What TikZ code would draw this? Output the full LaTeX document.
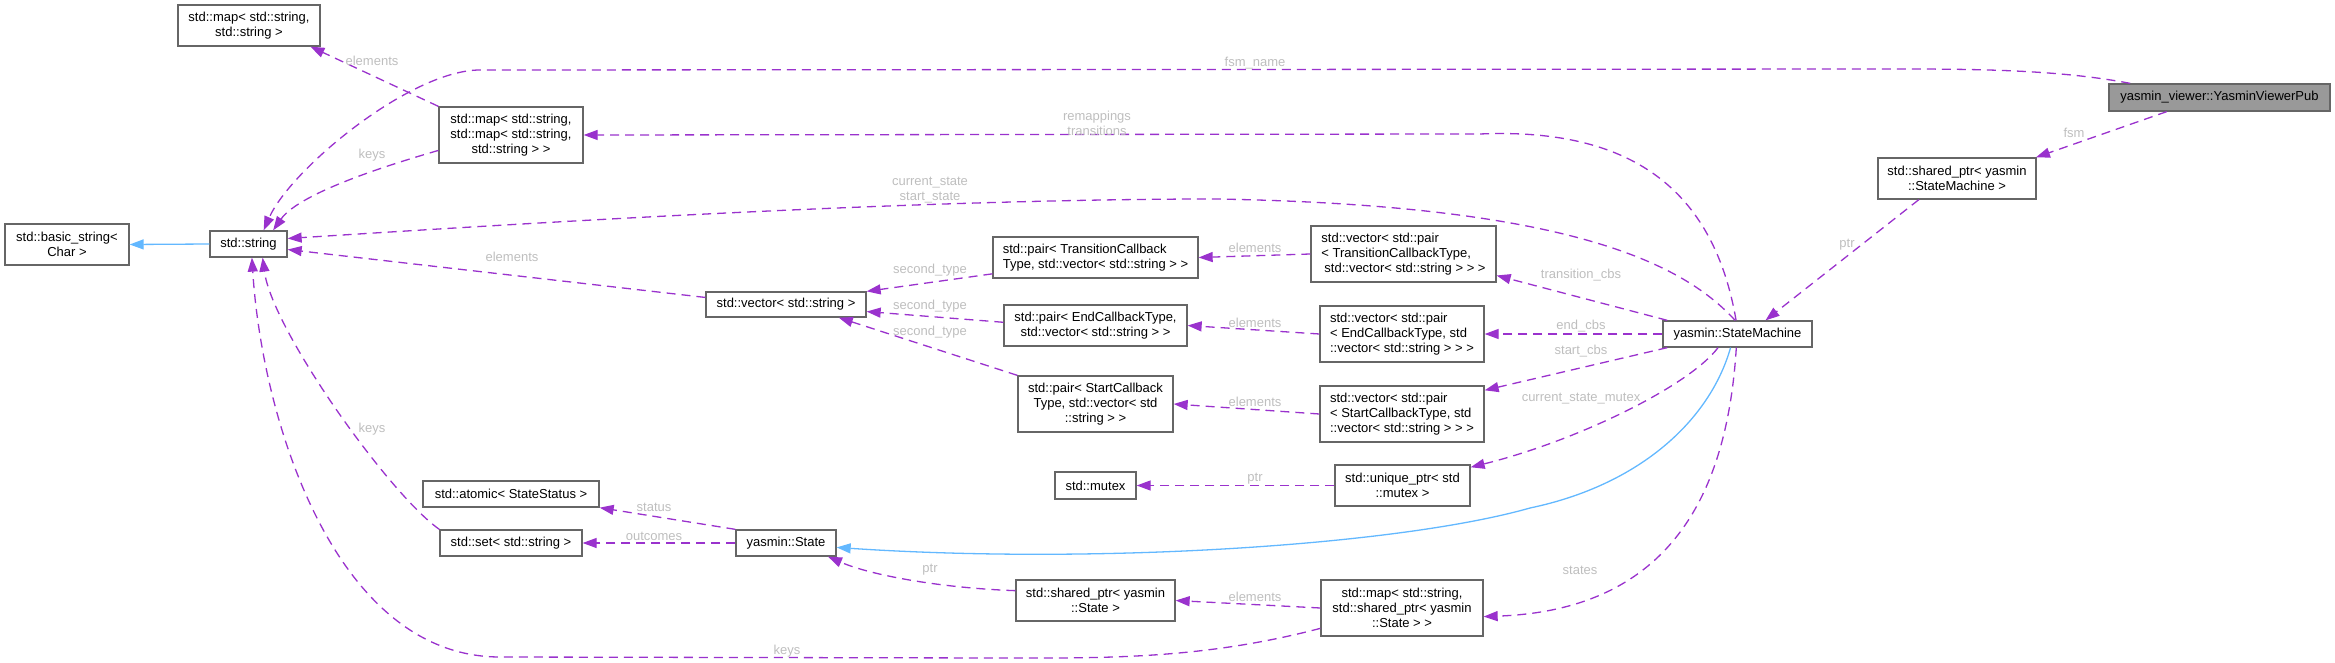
\documentclass[tikz,border=0pt]{standalone}
\usepackage{fontspec}
\setmainfont{Liberation Sans}
\usetikzlibrary{arrows.meta}
\definecolor{nodeborder}{HTML}{666666}
\definecolor{rootfill}{HTML}{999999}
\definecolor{usecol}{HTML}{9A32CD}
\definecolor{inhcol}{HTML}{63B8FF}
\definecolor{lblcol}{HTML}{BEBEBE}
\newcommand\nfont{\fontsize{13pt}{15pt}\selectfont}
\begin{document}
\begin{tikzpicture}[x=1pt,y=-1pt,
 box/.style={draw=nodeborder, line width=1.3pt, fill=white, inner sep=0pt, font=\nfont, align=center, text=black},
 lbox/.style={box, align=left},
 lbl/.style={font=\nfont, text=lblcol, inner sep=0pt, align=center},
 use/.style={draw=usecol, line width=1.3pt, dash pattern=on 9pt off 6pt, -{Triangle[length=14pt,width=10pt]}},
 inh/.style={draw=inhcol, line width=1.3pt, -{Triangle[length=14pt,width=10pt]}},
]
\useasboundingbox (0,0) rectangle (2335,663);
% nodes
\node[box, minimum width=142pt, minimum height=41pt] (A) at (249,25.5) {std::map< std::string,\\std::string >};
\node[box, minimum width=144pt, minimum height=56pt] (B) at (511,135) {std::map< std::string,\\std::map< std::string,\\std::string > >};
\node[box, minimum width=124pt, minimum height=41pt] (C) at (67,244.5) {std::basic\_string<\\Char >};
\node[box, minimum width=77pt, minimum height=26pt] (D) at (248.5,244) {std::string};
\node[box, minimum width=176pt, minimum height=26pt] (AT) at (511,494) {std::atomic< StateStatus >};
\node[box, minimum width=142pt, minimum height=26pt] (SE) at (511,543) {std::set< std::string >};
\node[box, minimum width=160pt, minimum height=25pt] (E) at (786,304.5) {std::vector< std::string >};
\node[box, minimum width=100pt, minimum height=26pt] (N) at (786,543) {yasmin::State};
\node[lbox, minimum width=205pt, minimum height=41pt] (F) at (1095.5,257.5) {std::pair< TransitionCallback\\Type, std::vector< std::string > >};
\node[box, minimum width=183pt, minimum height=41pt] (H) at (1095.5,325.5) {std::pair< EndCallbackType,\\std::vector< std::string > >};
\node[box, minimum width=155pt, minimum height=56pt] (J) at (1095.5,404) {std::pair< StartCallback\\Type, std::vector< std\\::string > >};
\node[box, minimum width=81pt, minimum height=27pt] (L) at (1095.5,485.5) {std::mutex};
\node[box, minimum width=159pt, minimum height=41pt] (O) at (1095.5,600.5) {std::shared\_ptr< yasmin\\::State >};
\node[lbox, minimum width=185pt, minimum height=56pt] (G) at (1403.5,254) {std::vector< std::pair\\< TransitionCallbackType,\\\hspace*{3pt}std::vector< std::string > > >};
\node[lbox, minimum width=164pt, minimum height=56pt] (I) at (1402,334) {std::vector< std::pair\\< EndCallbackType, std\\::vector< std::string > > >};
\node[lbox, minimum width=164pt, minimum height=56pt] (K) at (1402,414) {std::vector< std::pair\\< StartCallbackType, std\\::vector< std::string > > >};
\node[box, minimum width=135pt, minimum height=41pt] (M) at (1402.5,485.5) {std::unique\_ptr< std\\::mutex >};
\node[box, minimum width=162pt, minimum height=56pt] (P) at (1402,608) {std::map< std::string,\\std::shared\_ptr< yasmin\\::State > >};
\node[box, minimum width=149pt, minimum height=26pt] (SM) at (1737.5,334) {yasmin::StateMachine};
\node[box, minimum width=158pt, minimum height=41pt] (SP) at (1957,178.5) {std::shared\_ptr< yasmin\\::StateMachine >};
\node[box, fill=rootfill, minimum width=221pt, minimum height=27pt] (V) at (2219.5,97.5) {yasmin\_viewer::YasminViewerPub};
% edges
\draw[inh] (D.west) -- (C.east);
\draw[use] (B.north west) -- (A.-19);
\draw[use] (B.192) .. controls (395,163) and (300,192) .. (D.29);
\draw[use] (V.171) .. controls (2060,70) and (1980,69) .. (1900,69) -- (480,70) .. controls (410,70) and (290,170) .. (D.42);
\draw[use] (SM.96) .. controls (1712,180) and (1620,128) .. (1480,134) -- (B.east);
\draw[use] (SM.100) .. controls (1680,260) and (1560,205) .. (1216,199) .. controls (900,199) and (500,225) .. (D.8);
\draw[use] (E.175) -- (D.-8);
\draw[use] (SE.north west) .. controls (390,495) and (272,330) .. (D.-44);
\draw[use] (P.194) .. controls (1200,660) and (1100,658) .. (1000,658) -- (500,657) .. controls (335,657) and (262,420) .. (D.-76);
\draw[use] (F.189) -- (E.north east);
\draw[use] (H.178) -- (E.-5);
\draw[use] (J.north west) -- (E.-14);
\draw[use] (G.west) -- (F.east);
\draw[use] (I.west) -- (H.east);
\draw[use] (K.west) -- (J.east);
\draw[use] (M.west) -- (L.east);
\draw[use] (N.north west) -- (AT.south east);
\draw[use] (N.west) -- (SE.east);
\draw[use] (O.173) .. controls (940,588) and (870,575) .. (N.-18);
\draw[use] (P.west) -- (O.east);
\draw[use] (SM.169) -- (G.-13);
\draw[use] (SM.west) -- (I.east);
\draw[use] (SM.191) -- (K.16);
\draw[use] (SM.215) .. controls (1690,385) and (1580,440) .. (M.15);
\draw[inh] (SM.243) .. controls (1710,420) and (1640,485) .. (1530,508) .. controls (1400,545) and (1100,565) .. (N.-5);
\draw[use] (SM.265) .. controls (1728,480) and (1680,610) .. (P.-6);
\draw[use] (V.195) -- (SP.15);
\draw[use] (SP.209) -- (SM.26);
% labels
\node[lbl] (l1) at (1255,63) {fsm\_name};
\node[lbl] (l2) at (372,61) {elements};
\node[lbl] (l3) at (372,155) {keys};
\node[lbl] (l4) at (1097,123.5) {remappings\\transitions};
\node[lbl] (l5) at (2074,133) {fsm};
\node[lbl] (l6) at (930,190.5) {current\_state\\start\_state};
\node[lbl] (l7) at (512,257) {elements};
\node[lbl] (l8) at (930,270) {second\_type};
\node[lbl] (l9) at (930,306) {second\_type};
\node[lbl] (l10) at (930,332) {second\_type};
\node[lbl] (l11) at (1255,248) {elements};
\node[lbl] (l12) at (1255,323) {elements};
\node[lbl] (l13) at (1255,402) {elements};
\node[lbl] (l14) at (1255,479) {ptr};
\node[lbl] (l15) at (1255,597) {elements};
\node[lbl] (l16) at (1581,275) {transition\_cbs};
\node[lbl] (l17) at (1581,326) {end\_cbs};
\node[lbl] (l18) at (1581,351) {start\_cbs};
\node[lbl] (l19) at (1581,399) {current\_state\_mutex};
\node[lbl] (l20) at (1580,570) {states};
\node[lbl] (l21) at (1847,245) {ptr};
\node[lbl] (l22) at (372,429) {keys};
\node[lbl] (l23) at (654,507) {status};
\node[lbl] (l24) at (654,536) {outcomes};
\node[lbl] (l25) at (930,570) {ptr};
\node[lbl] (l26) at (787,651) {keys};
\end{tikzpicture}
\end{document}
